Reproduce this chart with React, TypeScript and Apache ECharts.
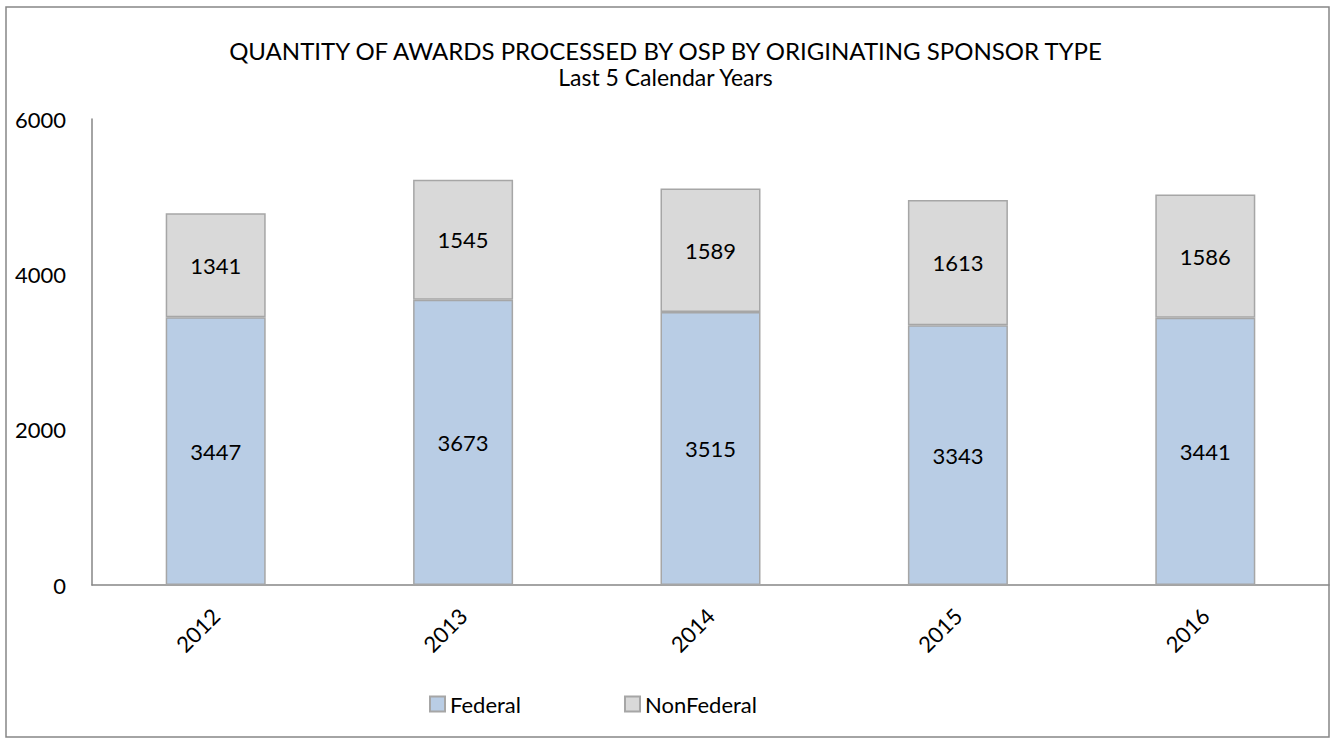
import React, { useEffect, useRef } from "react";
import * as echarts from "echarts";

const categories = ["2012", "2013", "2014", "2015", "2016"];
const federal = [3447, 3673, 3515, 3343, 3441];
const nonFederal = [1341, 1545, 1589, 1613, 1586];
const titleText = "QUANTITY OF AWARDS PROCESSED BY OSP BY ORIGINATING SPONSOR TYPE";
const subtitleText = "Last 5 Calendar Years";

const FONT = "Lato";

export default function App() {
  const ref = useRef<HTMLDivElement>(null);
  useEffect(() => {
    document.body.style.margin = "0";
    if (!ref.current) return;
    const chart = echarts.init(ref.current, null, { renderer: "svg" });
    const labelStyle = {
      show: true,
      position: "inside",
      color: "#000",
      fontSize: 22,
      fontFamily: FONT,
    };
    chart.setOption({
      animation: false,
      backgroundColor: "#fff",
      textStyle: { fontFamily: FONT },
      title: {
        text: titleText,
        subtext: subtitleText,
        left: "center",
        top: 33,
        itemGap: 3,
        textStyle: { fontSize: 24, fontWeight: "normal", color: "#000", fontFamily: FONT },
        subtextStyle: { fontSize: 23, color: "#000", fontFamily: FONT },
      },
      graphic: [
        {
          type: "rect",
          shape: { x: 6, y: 7, width: 1323, height: 730 },
          style: { fill: "none", stroke: "#868686", lineWidth: 1.5 },
          silent: true,
          z: 100,
        },
      ],
      legend: {
        data: ["Federal", "NonFederal"],
        top: 688,
        left: 424,
        itemWidth: 15,
        itemHeight: 15,
        itemGap: 103,
        icon: "rect",
        textStyle: { fontSize: 22, color: "#000", fontFamily: FONT },
      },
      grid: { left: 92, right: 2, top: 119, bottom: 159, containLabel: false },
      xAxis: {
        type: "category",
        data: categories,
        axisLine: { show: true, lineStyle: { color: "#868686", width: 1.5 } },
        axisTick: { show: false },
        axisLabel: { rotate: 45, fontSize: 22, color: "#000", margin: 27, fontFamily: FONT },
      },
      yAxis: {
        type: "value",
        min: 0,
        max: 6000,
        interval: 2000,
        axisLine: { show: true, lineStyle: { color: "#868686", width: 1.5 } },
        axisTick: { show: false },
        splitLine: { show: false },
        axisLabel: {
          fontSize: 22,
          color: "#000",
          margin: 26,
          fontFamily: FONT,
          formatter: (v: number) => String(v),
        },
      },
      series: [
        {
          name: "Federal",
          type: "bar",
          stack: "total",
          data: federal,
          barWidth: 100,
          itemStyle: { color: "#B9CDE5", borderColor: "#A6A6A6", borderWidth: 1.5 },
          label: labelStyle,
        },
        {
          name: "NonFederal",
          type: "bar",
          stack: "total",
          data: nonFederal,
          barWidth: 100,
          itemStyle: { color: "#D9D9D9", borderColor: "#A6A6A6", borderWidth: 1.5 },
          label: labelStyle,
        },
      ],
    });
    return () => chart.dispose();
  }, []);
  return <div ref={ref} style={{ width: 1331, height: 744 }} />;
}
